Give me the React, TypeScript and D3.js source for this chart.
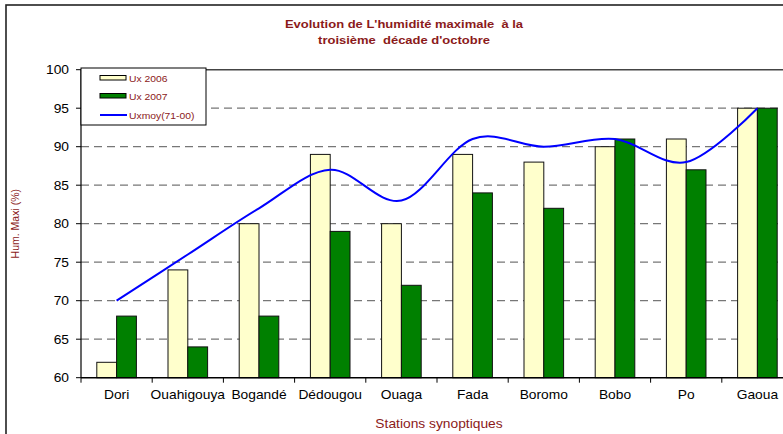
import React from 'react';
import * as d3 from 'd3';

const stations = ['Dori', 'Ouahigouya', 'Bogandé', 'Dédougou', 'Ouaga', 'Fada', 'Boromo', 'Bobo', 'Po', 'Gaoua'];
const ux2006 = [62, 74, 80, 89, 80, 89, 88, 90, 91, 95];
const ux2007 = [68, 64, 68, 79, 72, 84, 82, 91, 87, 95];
const uxmoy = [70, 76, 82, 87, 83, 91, 90, 91, 88, 95];
const yTicks = [60, 65, 70, 75, 80, 85, 90, 95, 100];

const W = 783;
const H = 434;
const FONT = 'Liberation Sans, Arial, sans-serif';
const RED = '#8b1a1a';
const SX = 1.15;

function SText({ x, y, size, anchor = 'start', fill = '#000', weight = 400, children }: any) {
  return (
    <text
      transform={`translate(${x},${y}) scale(${SX},1)`}
      fontSize={size}
      fontFamily={FONT}
      fontWeight={weight}
      textAnchor={anchor}
      fill={fill}
      style={{ whiteSpace: 'pre' }}
    >
      {children}
    </text>
  );
}

export default function App() {
  const left = 81;
  const right = 793;
  const x = d3.scaleBand<string>().domain(stations).range([left, right]);
  const y = d3.scaleLinear().domain([60, 100]).range([377.7, 69.7]);
  const barW = 19.8;

  const line = d3
    .line<number>()
    .x((_, i) => x(stations[i])! + x.bandwidth() / 2)
    .y((d) => y(d))
    .curve(d3.curveCardinal.tension(0));

  const boundaries = stations.map((s) => x(s)!).concat([right]);

  return (
    <svg width={W} height={H} style={{ position: 'absolute', left: 0, top: 0 }}>
      <rect x={0} y={0} width={W} height={H} fill="#fff" />
      <rect x={6} y={5} width={W + 20} height={H + 20} fill="none" stroke="#222" strokeWidth={1.6} />

      <SText x={404} y={28} size={11.3} anchor="middle" fill={RED} weight={700}>
        {"Evolution de L'humidité maximale  à la"}
      </SText>
      <SText x={404} y={44} size={11.3} anchor="middle" fill={RED} weight={700}>
        {"troisième  décade d'octobre"}
      </SText>

      {/* grid */}
      {yTicks.slice(1).map((t) => (
        <line
          key={t}
          x1={left}
          x2={right}
          y1={y(t)}
          y2={y(t)}
          stroke={t === 100 ? '#444' : '#777'}
          strokeWidth={t === 100 ? 1.4 : 1.2}
          strokeDasharray={t === 100 ? undefined : '8,5'}
        />
      ))}

      {/* bars */}
      {stations.map((s, i) => {
        const cx = x(s)! + x.bandwidth() / 2;
        return (
          <g key={s}>
            <rect
              x={cx - barW}
              y={y(ux2006[i])}
              width={barW}
              height={y(60) - y(ux2006[i])}
              fill="#ffffcc"
              stroke="#111"
              strokeWidth={1}
            />
            <rect
              x={cx}
              y={y(ux2007[i])}
              width={barW}
              height={y(60) - y(ux2007[i])}
              fill="#008000"
              stroke="#111"
              strokeWidth={1}
            />
          </g>
        );
      })}

      <path d={line(uxmoy) ?? ''} fill="none" stroke="#0000ff" strokeWidth={2} />

      {/* axes */}
      <line x1={left} x2={left} y1={y(100)} y2={y(60)} stroke="#000" strokeWidth={1.2} />
      <line x1={left} x2={right} y1={y(60)} y2={y(60)} stroke="#000" strokeWidth={1.4} />
      {yTicks.map((t) => (
        <g key={t}>
          <line x1={left - 5} x2={left} y1={y(t)} y2={y(t)} stroke="#000" />
          <SText x={69} y={y(t) + 4.5} size={12} anchor="end">
            {t}
          </SText>
        </g>
      ))}
      {boundaries.map((b, i) => (
        <line key={i} x1={b} x2={b} y1={y(60)} y2={y(60) + 5} stroke="#000" />
      ))}
      {stations.map((s) => (
        <SText key={s} x={x(s)! + x.bandwidth() / 2} y={399} size={12} anchor="middle">
          {s}
        </SText>
      ))}

      <SText x={439} y={428} size={12} anchor="middle" fill={RED}>
        Stations synoptiques
      </SText>
      <text
        transform={`translate(19,${(y(60) + y(100)) / 2}) rotate(-90)`}
        fontSize={10.5}
        fontFamily={FONT}
        textAnchor="middle"
        fill={RED}
      >
        Hum. Maxi (%)
      </text>

      {/* legend */}
      <rect x={81} y={68} width={125} height={57} fill="#fff" stroke="#000" strokeWidth={1} />
      <rect x={100} y={75.5} width={26} height={4.5} fill="#ffffcc" stroke="#000" strokeWidth={1} />
      <rect x={100} y={93.5} width={26} height={4.5} fill="#008000" stroke="#000" strokeWidth={1} />
      <line x1={100} x2={127} y1={115} y2={115} stroke="#0000ff" strokeWidth={2} />
      <SText x={129} y={81.5} size={9} fill={RED}>Ux 2006</SText>
      <SText x={129} y={99.5} size={9} fill={RED}>Ux 2007</SText>
      <SText x={129} y={118.5} size={9} fill={RED}>Uxmoy(71-00)</SText>
    </svg>
  );
}
